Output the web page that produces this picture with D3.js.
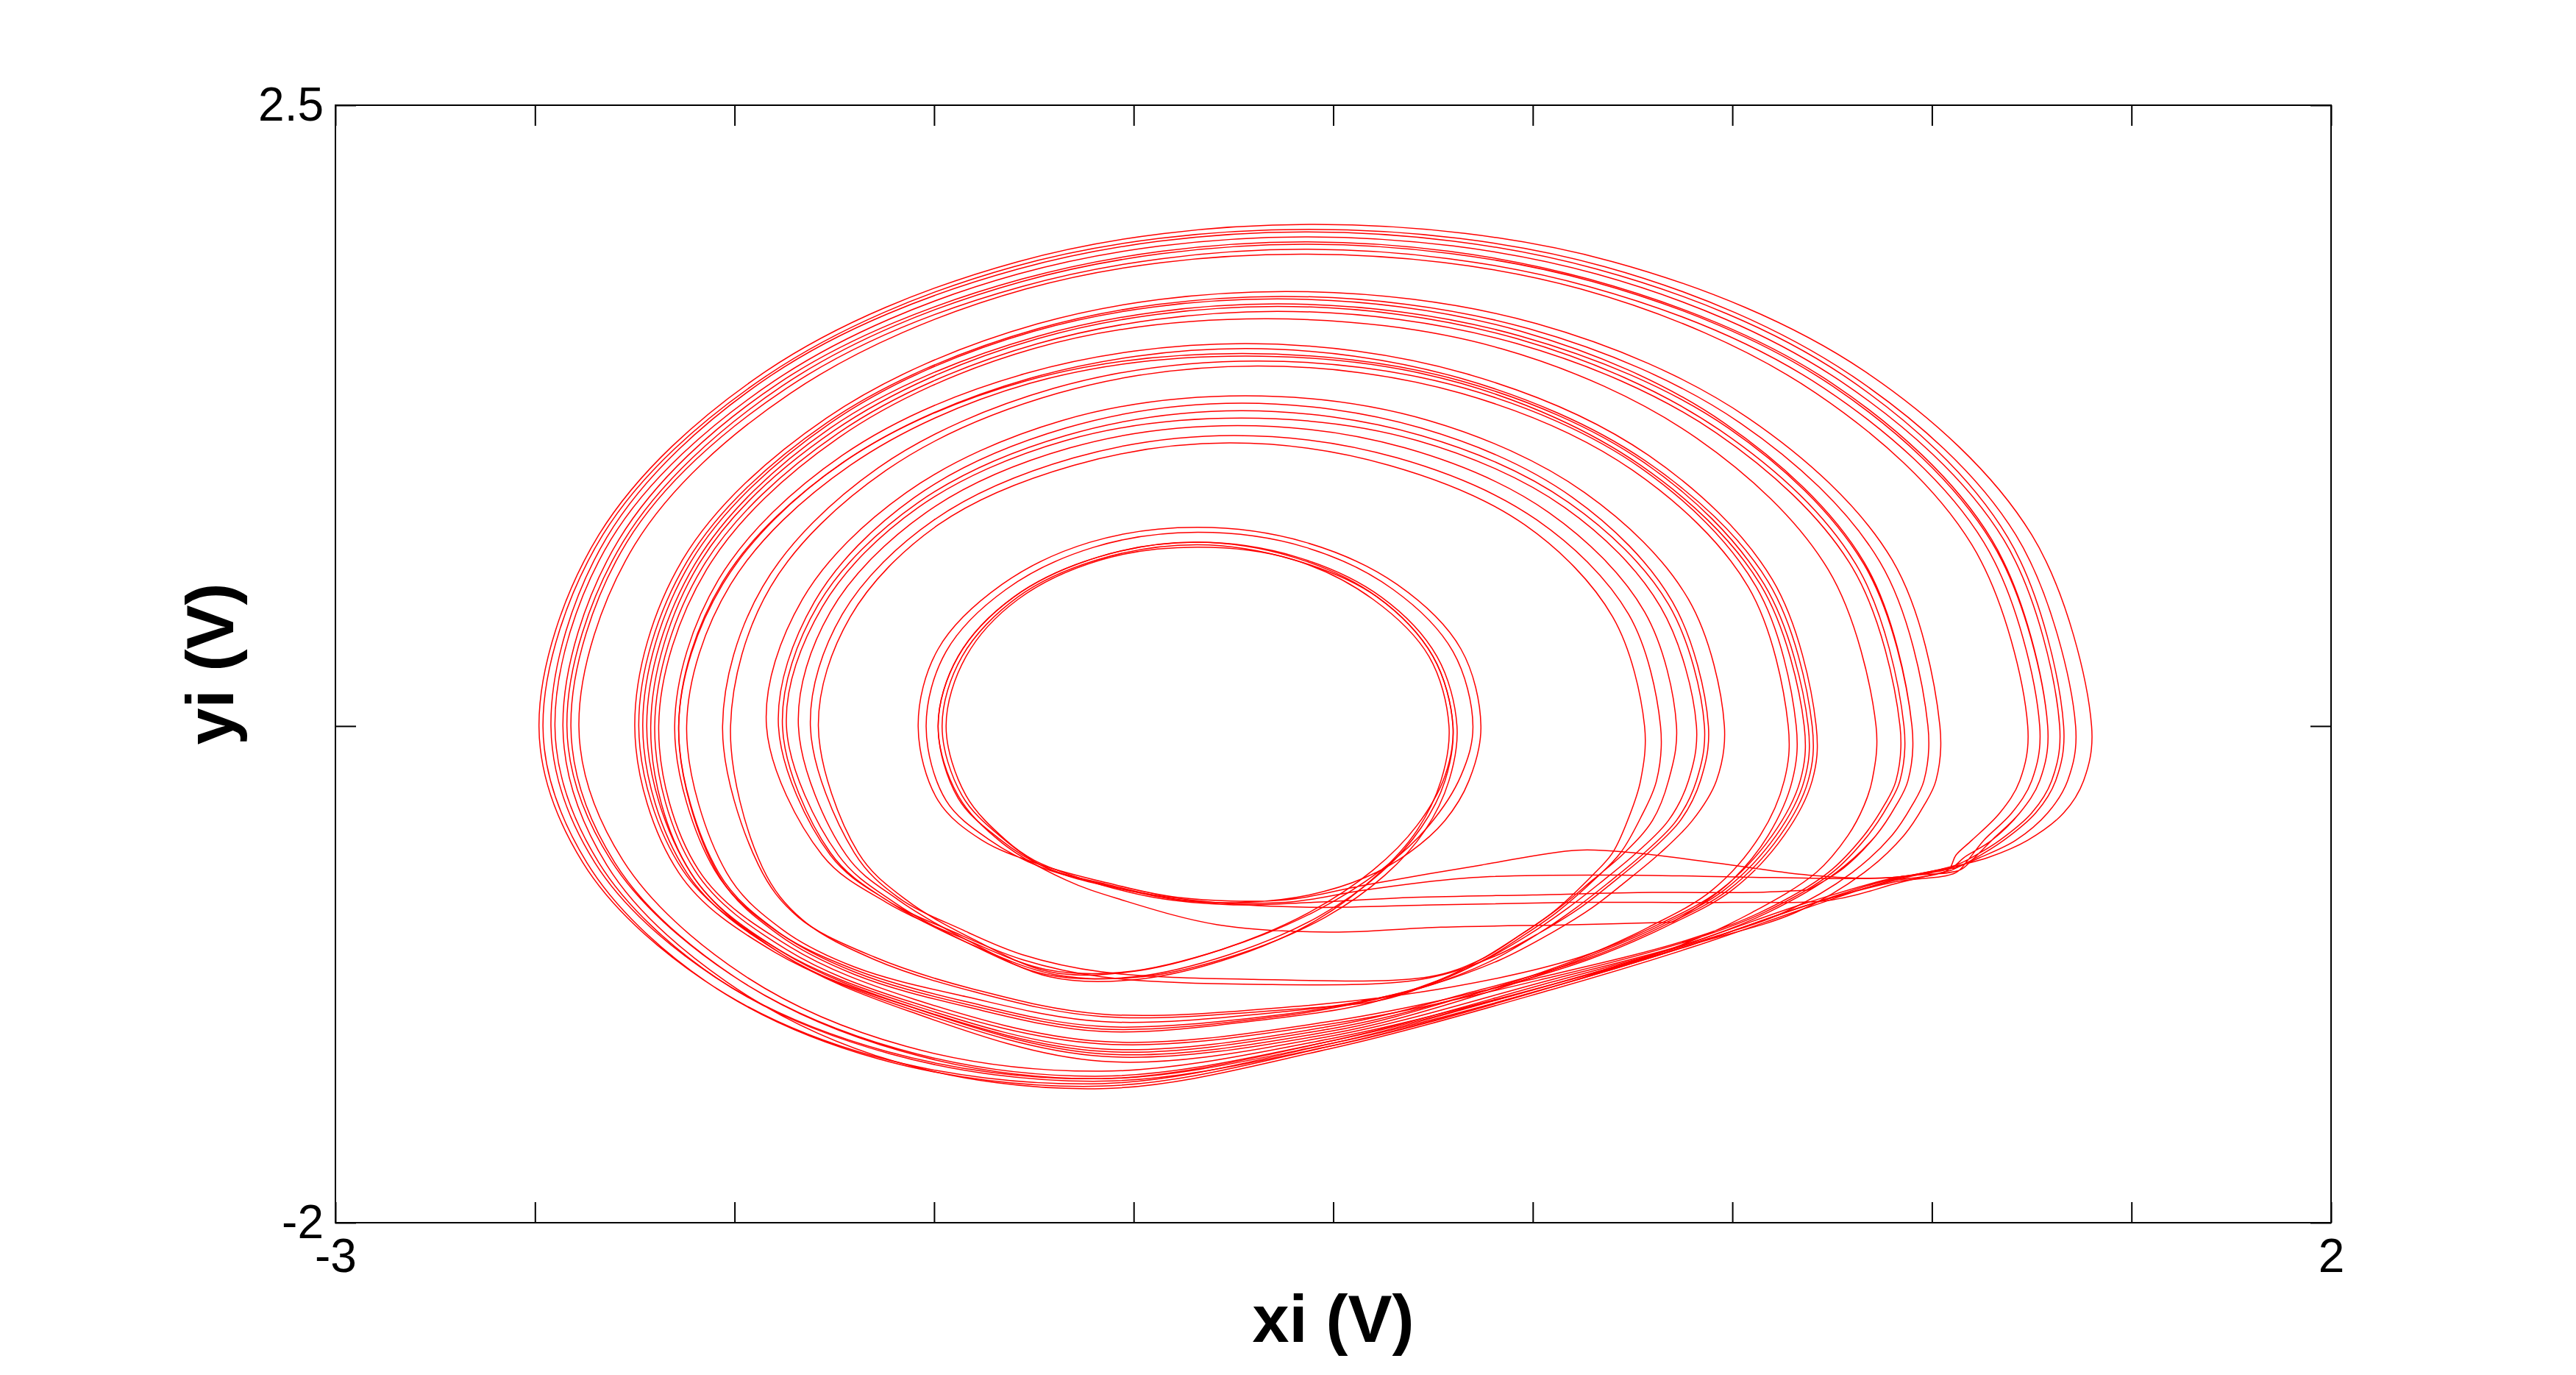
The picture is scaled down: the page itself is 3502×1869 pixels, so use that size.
<!DOCTYPE html>
<html>
<head>
<meta charset="utf-8">
<script src="https://cdn.jsdelivr.net/npm/d3@7"></script>
<style>
  html, body { margin: 0; padding: 0; background: #ffffff; }
  svg { display: block; }
</style>
</head>
<body>
<div id="chart"></div>
<script>
// ---------------- data (volts) ----------------
const xDomain = [-3, 2];
const yDomain = [-2, 2.5];
const xTicks = [-3, -2.5, -2, -1.5, -1, -0.5, 0, 0.5, 1, 1.5, 2];
const xTickLabels = ["-3", "", "", "", "", "", "", "", "", "", "2"];
const yTicks = [-2, 0, 2.5];
const yTickLabels = ["-2", "", "2.5"];
const xLabel = "xi (V)";
const yLabel = "yi (V)";

// trajectory of the attractor (xi, yi), split in episodes; each starts with a re-injection
const episode1 = [
  [1.07,-0.56],[0.90,-0.61],[0.69,-0.60],[0.50,-0.56],[0.25,-0.51],[0.11,-0.50],[-0.13,-0.56],[-0.42,-0.64],[-0.62,-0.70],
  [-0.89,-0.69],[-1.07,-0.63],[-1.23,-0.56],[-1.38,-0.46],[-1.49,-0.30],
  [-1.54,0],[-1.49,0.31],[-1.33,0.57],[-1.11,0.74],[-0.84,0.80],[-0.57,0.74],[-0.34,0.57],[-0.18,0.31],[-0.13,0],
  [-0.16,-0.22],[-0.22,-0.38],[-0.31,-0.51],[-0.42,-0.61],[-0.56,-0.68],[-0.72,-0.71],[-0.89,-0.70],[-1.07,-0.64],[-1.23,-0.57],[-1.36,-0.46],[-1.47,-0.30],
  [-1.52,0],[-1.47,0.30],[-1.32,0.55],[-1.10,0.72],[-0.84,0.78],[-0.57,0.72],[-0.35,0.55],[-0.20,0.30],[-0.15,0],
  [-0.18,-0.20],[-0.26,-0.40],[-0.38,-0.58],[-0.55,-0.75],[-0.78,-0.90],[-1.02,-0.99],[-1.22,-0.98],[-1.42,-0.86],
  [-1.62,-0.71],[-1.78,-0.52],
  [-1.92,0],[-1.83,0.51],[-1.57,0.94],[-1.18,1.23],[-0.72,1.33],[-0.26,1.23],[0.13,0.94],[0.39,0.51],[0.48,0],
  [0.46,-0.22],[0.40,-0.38],[0.32,-0.51],[0.23,-0.63],[0.15,-0.73],[0.05,-0.83],[-0.08,-0.94],[-0.25,-1.04],[-0.40,-1.10],
  [-0.62,-1.16],[-1.08,-1.21],[-1.42,-1.11],[-1.70,-0.98],[-1.90,-0.82],[-2.05,-0.58],
  [-2.15,0],[-2.04,0.59],[-1.73,1.09],[-1.27,1.42],[-0.72,1.54],[-0.17,1.42],[0.29,1.09],[0.60,0.59],[0.71,0],
  [0.70,-0.22],[0.63,-0.44],[0.50,-0.66],[0.33,-0.81],[0.14,-0.94],
  [-0.15,-1.08],[-0.51,-1.22],[-1.08,-1.31],[-1.56,-1.13],[-1.90,-0.91],[-2.14,-0.59],
  [-2.25,0],[-2.13,0.67],[-1.77,1.24],[-1.24,1.62],[-0.62,1.75],[0.01,1.62],[0.54,1.24],[0.90,0.67],[1.02,0],
  [1.01,-0.22],[0.98,-0.32],[0.93,-0.44],[0.83,-0.59],[0.66,-0.75],[0.42,-0.87],
  [0.05,-1.04],[-0.51,-1.28],[-1.08,-1.44],[-1.65,-1.33],[-2.08,-1.02],[-2.38,-0.55],
  [-2.49,0],[-2.34,0.77],[-1.92,1.43],[-1.29,1.87],[-0.55,2.02],[0.20,1.87],[0.83,1.43],[1.25,0.77],[1.40,0],
  [1.38,-0.22],[1.33,-0.35],[1.24,-0.46],[1.14,-0.53],[1.07,-0.56],
  [0.91,-0.62],[0.69,-0.72],[0.40,-0.88],[0.05,-1.05],
  [-0.51,-1.29],[-1.08,-1.45],[-1.64,-1.34],[-2.07,-1.03],[-2.37,-0.55],
  [-2.48,0],[-2.33,0.77],[-1.92,1.41],[-1.30,1.85],[-0.56,2.00],[0.18,1.85],[0.80,1.41],[1.21,0.77],[1.36,0],
  [1.34,-0.22],[1.29,-0.35],[1.21,-0.46],[1.12,-0.53],[1.06,-0.57]
];

const episode2 = [
  [1.06,-0.57],[0.90,-0.61],[0.60,-0.61],[0.20,-0.60],[-0.15,-0.61],[-0.42,-0.66],[-0.62,-0.71],
  [-0.88,-0.70],[-1.06,-0.64],[-1.22,-0.57],[-1.34,-0.45],[-1.44,-0.29],
  [-1.49,0],[-1.44,0.28],[-1.30,0.52],[-1.09,0.68],[-0.84,0.74],[-0.59,0.68],[-0.38,0.52],[-0.24,0.28],[-0.19,0],
  [-0.21,-0.22],[-0.27,-0.42],[-0.37,-0.60],[-0.52,-0.77],[-0.74,-0.92],[-0.98,-1.01],[-1.20,-1.00],[-1.42,-0.87],
  [-1.61,-0.71],[-1.76,-0.52],
  [-1.89,0],[-1.80,0.50],[-1.55,0.92],[-1.17,1.20],[-0.73,1.30],[-0.28,1.20],[0.10,0.92],[0.35,0.50],[0.44,0],
  [0.42,-0.22],[0.37,-0.38],[0.29,-0.51],[0.20,-0.63],[0.12,-0.73],[0.02,-0.83],[-0.10,-0.93],[-0.28,-1.02],
  [-0.70,-1.04],[-1.08,-1.01],[-1.28,-0.94],[-1.45,-0.83],[-1.62,-0.70],[-1.76,-0.51],
  [-1.88,0],[-1.79,0.49],[-1.54,0.90],[-1.17,1.17],[-0.73,1.27],[-0.28,1.17],[0.09,0.90],[0.34,0.49],[0.43,0],
  [0.41,-0.22],[0.36,-0.38],[0.28,-0.51],[0.19,-0.63],[0.11,-0.73],[0.01,-0.84],[-0.11,-0.95],[-0.27,-1.05],[-0.42,-1.11],
  [-0.64,-1.17],[-1.08,-1.22],[-1.42,-1.12],[-1.70,-0.99],[-1.89,-0.83],[-2.04,-0.59],
  [-2.14,0],[-2.03,0.58],[-1.72,1.07],[-1.26,1.40],[-0.72,1.52],[-0.18,1.40],[0.28,1.07],[0.59,0.58],[0.70,0],
  [0.69,-0.22],[0.62,-0.44],[0.49,-0.66],[0.32,-0.81],[0.13,-0.94],
  [-0.15,-1.07],[-0.51,-1.21],[-1.08,-1.30],[-1.56,-1.12],[-1.89,-0.90],[-2.13,-0.58],
  [-2.24,0],[-2.12,0.66],[-1.77,1.22],[-1.24,1.60],[-0.63,1.73],[-0.01,1.60],[0.52,1.22],[0.87,0.66],[0.99,0],
  [0.98,-0.22],[0.95,-0.32],[0.90,-0.44],[0.80,-0.59],[0.63,-0.75],[0.41,-0.87],
  [0.05,-1.03],[-0.51,-1.27],[-1.08,-1.42],[-1.62,-1.31],[-2.05,-1.01],[-2.35,-0.55],
  [-2.46,0],[-2.32,0.76],[-1.91,1.41],[-1.29,1.84],[-0.57,1.99],[0.16,1.84],[0.78,1.41],[1.19,0.76],[1.33,0],
  [1.31,-0.22],[1.26,-0.35],[1.18,-0.46],[1.10,-0.54],[1.05,-0.58]
];

const episode3 = [
  [1.05,-0.58],[0.92,-0.63],[0.75,-0.70],[0.50,-0.71],[0.10,-0.71],[-0.25,-0.72],[-0.55,-0.73],[-0.80,-0.71],
  [-1.05,-0.65],[-1.22,-0.57],[-1.33,-0.45],[-1.43,-0.28],
  [-1.48,0],[-1.43,0.28],[-1.29,0.52],[-1.09,0.67],[-0.84,0.73],[-0.60,0.67],[-0.39,0.52],[-0.25,0.28],[-0.20,0],
  [-0.22,-0.22],[-0.28,-0.41],[-0.38,-0.59],[-0.54,-0.77],[-0.76,-0.92],[-1.00,-1.01],[-1.22,-1.00],[-1.42,-0.87],
  [-1.60,-0.71],[-1.74,-0.52],
  [-1.87,0],[-1.78,0.48],[-1.54,0.88],[-1.17,1.15],[-0.73,1.24],[-0.29,1.15],[0.08,0.88],[0.32,0.48],[0.41,0],
  [0.39,-0.22],[0.34,-0.38],[0.26,-0.51],[0.17,-0.63],[0.09,-0.73],[-0.01,-0.84],[-0.13,-0.95],[-0.28,-1.05],[-0.42,-1.12],
  [-0.66,-1.18],[-1.08,-1.23],[-1.42,-1.13],[-1.70,-1.00],[-1.89,-0.84],[-2.04,-0.60],
  [-2.14,0],[-2.03,0.57],[-1.73,1.06],[-1.27,1.39],[-0.73,1.50],[-0.18,1.39],[0.28,1.06],[0.58,0.57],[0.69,0],
  [0.68,-0.22],[0.61,-0.44],[0.48,-0.66],[0.31,-0.81],[0.12,-0.94],
  [-0.15,-1.09],[-0.51,-1.24],[-1.08,-1.33],[-1.56,-1.14],[-1.88,-0.92],[-2.12,-0.59],
  [-2.23,0],[-2.11,0.66],[-1.76,1.22],[-1.25,1.59],[-0.64,1.72],[-0.03,1.59],[0.48,1.22],[0.83,0.66],[0.95,0],
  [0.94,-0.22],[0.91,-0.32],[0.86,-0.44],[0.76,-0.59],[0.59,-0.75],[0.40,-0.87],
  [0.05,-1.02],[-0.51,-1.25],[-1.08,-1.35],[-1.56,-1.15],[-1.88,-0.92],[-2.11,-0.59],
  [-2.22,0],[-2.10,0.65],[-1.76,1.20],[-1.24,1.57],[-0.64,1.70],[-0.03,1.57],[0.49,1.20],[0.83,0.65],[0.95,0],
  [0.94,-0.22],[0.91,-0.32],[0.86,-0.44],[0.78,-0.57],[0.69,-0.66]
];

const episode4 = [
  [0.69,-0.66],[0.55,-0.67],[0.30,-0.67],[0.00,-0.68],[-0.30,-0.69],[-0.55,-0.71],[-0.75,-0.72],
  [-0.95,-0.69],[-1.12,-0.62],[-1.25,-0.54],[-1.32,-0.46],[-1.42,-0.28],
  [-1.47,0],[-1.42,0.28],[-1.29,0.51],[-1.08,0.67],[-0.84,0.72],[-0.60,0.67],[-0.40,0.51],[-0.26,0.28],[-0.21,0],
  [-0.23,-0.22],[-0.29,-0.42],[-0.39,-0.60],[-0.54,-0.78],[-0.75,-0.93],[-0.99,-1.02],[-1.21,-1.01],[-1.42,-0.86],
  [-1.59,-0.70],[-1.72,-0.52],
  [-1.84,0],[-1.76,0.46],[-1.52,0.86],[-1.16,1.12],[-0.74,1.21],[-0.32,1.12],[0.04,0.86],[0.28,0.46],[0.36,0],
  [0.34,-0.22],[0.30,-0.38],[0.23,-0.51],[0.15,-0.62],[0.06,-0.74],[-0.03,-0.84],[-0.13,-0.94],[-0.26,-1.01],
  [-0.70,-1.02],[-1.08,-0.99],[-1.28,-0.92],[-1.43,-0.82],[-1.59,-0.69],[-1.70,-0.51],
  [-1.81,0],[-1.73,0.45],[-1.50,0.83],[-1.15,1.08],[-0.75,1.17],[-0.34,1.08],[0.01,0.83],[0.24,0.45],[0.32,0],
  [0.31,-0.22],[0.27,-0.37],[0.22,-0.51],[0.16,-0.61],[0.06,-0.75],[-0.03,-0.85],[-0.12,-0.94],[-0.24,-1.03],[-0.40,-1.10],
  [-0.62,-1.15],[-1.08,-1.19],[-1.42,-1.09],[-1.70,-0.97],[-1.88,-0.82],[-2.02,-0.59],
  [-2.12,0],[-2.01,0.57],[-1.71,1.05],[-1.26,1.38],[-0.72,1.49],[-0.18,1.38],[0.27,1.05],[0.57,0.57],[0.68,0],
  [0.67,-0.22],[0.60,-0.44],[0.47,-0.66],[0.30,-0.81],[0.12,-0.93],
  [-0.20,-1.05],[-0.60,-1.13],[-1.08,-1.16],[-1.40,-1.06],[-1.65,-0.93],[-1.84,-0.77],[-1.94,-0.56],
  [-2.03,0],[-1.93,0.56],[-1.64,1.04],[-1.20,1.36],[-0.69,1.47],[-0.17,1.36],[0.27,1.04],[0.56,0.56],[0.66,0],
  [0.65,-0.22],[0.59,-0.44],[0.50,-0.62],[0.42,-0.72],[0.35,-0.79]
];

const episode5 = [
  [0.35,-0.79],[0.10,-0.80],[-0.23,-0.81],[-0.51,-0.83],[-0.79,-0.80],[-1.03,-0.70],[-1.17,-0.62],[-1.33,-0.47],[-1.44,-0.28],
  [-1.49,0],[-1.44,0.28],[-1.30,0.52],[-1.09,0.68],[-0.85,0.74],[-0.60,0.68],[-0.39,0.52],[-0.25,0.28],[-0.20,0],
  [-0.22,-0.20],[-0.29,-0.40],[-0.40,-0.58],[-0.56,-0.75],[-0.78,-0.90],[-1.01,-0.99],[-1.21,-0.99],[-1.40,-0.86],
  [-1.57,-0.70],[-1.69,-0.51],
  [-1.79,0],[-1.71,0.44],[-1.49,0.81],[-1.15,1.05],[-0.76,1.14],[-0.36,1.05],[-0.02,0.81],[0.20,0.44],[0.28,0],
  [0.27,-0.22],[0.24,-0.37],[0.20,-0.51],[0.15,-0.60],[0.05,-0.75],[-0.04,-0.85],[-0.13,-0.94],[-0.23,-1.02],[-0.37,-1.10],
  [-0.60,-1.14],[-1.08,-1.17],[-1.40,-1.07],[-1.65,-0.94],[-1.83,-0.78],[-1.93,-0.57],
  [-2.01,0],[-1.91,0.56],[-1.62,1.03],[-1.19,1.34],[-0.69,1.45],[-0.18,1.34],[0.25,1.03],[0.54,0.56],[0.64,0],
  [0.63,-0.22],[0.57,-0.44],[0.45,-0.66],[0.29,-0.81],[0.11,-0.94],
  [-0.15,-1.08],[-0.51,-1.23],[-1.08,-1.32],[-1.56,-1.13],[-1.88,-0.91],[-2.11,-0.59],
  [-2.21,0],[-2.09,0.65],[-1.75,1.19],[-1.24,1.56],[-0.64,1.69],[-0.04,1.56],[0.47,1.19],[0.81,0.65],[0.93,0],
  [0.92,-0.22],[0.89,-0.32],[0.84,-0.44],[0.75,-0.59],[0.58,-0.75],[0.40,-0.86],
  [0.05,-1.01],[-0.51,-1.20],[-1.08,-1.28],[-1.56,-1.11],[-1.87,-0.90],[-2.10,-0.58],
  [-2.20,0],[-2.08,0.64],[-1.74,1.18],[-1.24,1.54],[-0.64,1.67],[-0.04,1.54],[0.46,1.18],[0.80,0.64],[0.92,0],
  [0.91,-0.22],[0.88,-0.32],[0.83,-0.44],[0.74,-0.59],[0.57,-0.75],[0.39,-0.86],
  [0.05,-1.00],[-0.51,-1.19],[-1.08,-1.27],[-1.55,-1.10],[-1.86,-0.89],[-2.09,-0.58],
  [-2.19,0],[-2.07,0.63],[-1.74,1.16],[-1.25,1.52],[-0.67,1.64],[-0.08,1.52],[0.41,1.16],[0.74,0.63],[0.86,0],
  [0.85,-0.22],[0.83,-0.32],[0.79,-0.44],[0.71,-0.59],[0.55,-0.75],[0.39,-0.87],
  [0.05,-1.05],[-0.51,-1.29],[-1.08,-1.43],[-1.61,-1.32],[-2.04,-1.02],[-2.34,-0.55],
  [-2.45,0],[-2.31,0.75],[-1.90,1.39],[-1.29,1.82],[-0.57,1.97],[0.16,1.82],[0.77,1.39],[1.18,0.75],[1.32,0],
  [1.30,-0.22],[1.25,-0.35],[1.17,-0.46],[1.11,-0.52],[1.06,-0.56],
  [0.90,-0.62],[0.69,-0.73],[0.40,-0.89],[0.05,-1.06],
  [-0.51,-1.30],[-1.08,-1.46],[-1.60,-1.35],[-2.02,-1.03],[-2.32,-0.56],
  [-2.43,0],[-2.29,0.75],[-1.89,1.38],[-1.28,1.80],[-0.57,1.95],[0.14,1.80],[0.75,1.38],[1.15,0.75],[1.29,0],
  [1.27,-0.22],[1.22,-0.35],[1.15,-0.46],[1.10,-0.54],[1.07,-0.58],
  [0.91,-0.61],[0.69,-0.71],[0.40,-0.87],[0.05,-1.04],
  [-0.51,-1.27],[-1.08,-1.41],[-1.59,-1.30],[-2.01,-1.00],[-2.31,-0.54],
  [-2.42,0],[-2.28,0.74],[-1.88,1.37],[-1.28,1.79],[-0.57,1.94],[0.15,1.79],[0.75,1.37],[1.15,0.74],[1.29,0],
  [1.27,-0.22],[1.22,-0.35],[1.15,-0.46],[1.08,-0.53],[1.05,-0.57],
  [0.89,-0.62],[0.69,-0.72],[0.40,-0.88],[0.05,-1.05],
  [-0.51,-1.28],[-1.08,-1.42],[-1.58,-1.31],[-2.00,-1.01],[-2.30,-0.55],
  [-2.41,0],[-2.27,0.74],[-1.87,1.36],[-1.28,1.77],[-0.57,1.92],[0.14,1.77],[0.73,1.36],[1.13,0.74],[1.27,0],
  [1.25,-0.22],[1.20,-0.35],[1.13,-0.46],[1.09,-0.54],[1.06,-0.59],
  [0.90,-0.63],[0.69,-0.72],[0.40,-0.88],[0.05,-1.04],
  [-0.51,-1.26],[-1.08,-1.39],[-1.57,-1.29],[-1.98,-1.00],[-2.28,-0.54],
  [-2.39,0],[-2.25,0.73],[-1.86,1.34],[-1.27,1.76],[-0.58,1.90],[0.12,1.76],[0.71,1.34],[1.10,0.73],[1.24,0],
  [1.22,-0.22],[1.17,-0.35],[1.10,-0.46],[1.06,-0.52],[1.04,-0.58],[0.90,-0.62]
];

const episodes = [episode1, episode2, episode3, episode4, episode5];

// ---------------- drawing ----------------
const W = 3502, H = 1869;
const plot = { left: 456, right: 3169, top: 143, bottom: 1662 };
const FONT = "'Liberation Sans', Arial, Helvetica, sans-serif";

const svg = d3.select("#chart").append("svg")
  .attr("width", W).attr("height", H)
  .attr("viewBox", `0 0 ${W} ${H}`);

svg.append("rect").attr("width", W).attr("height", H).attr("fill", "#ffffff");

const x = d3.scaleLinear().domain(xDomain).range([plot.left, plot.right]);
const y = d3.scaleLinear().domain(yDomain).range([plot.bottom, plot.top]);

svg.append("clipPath").attr("id", "clip")
  .append("rect")
  .attr("x", plot.left).attr("y", plot.top)
  .attr("width", plot.right - plot.left).attr("height", plot.bottom - plot.top);

const line = d3.line()
  .x(d => x(d[0]))
  .y(d => y(d[1]))
  .curve(d3.curveCatmullRom.alpha(0.5));

svg.append("g").attr("clip-path", "url(#clip)")
  .selectAll("path")
  .data(episodes)
  .join("path")
  .attr("d", line)
  .attr("fill", "none")
  .attr("stroke", "#ff0000")
  .attr("stroke-width", 1.5)
  .attr("stroke-linejoin", "round");

// axes (ticks point inward, MATLAB style box)
const TICK = 28;
const xLabelOf = d => xTickLabels[xTicks.indexOf(d)];
const yLabelOf = d => yTickLabels[yTicks.indexOf(d)];

function styleAxis(g) {
  g.select(".domain").remove();
  g.selectAll(".tick line").attr("stroke", "#000").attr("stroke-width", 2);
  g.selectAll(".tick text")
    .attr("fill", "#000")
    .style("font-family", FONT)
    .style("font-size", "64px");
}

svg.append("g")
  .attr("transform", `translate(0,${plot.bottom})`)
  .call(d3.axisBottom(x).tickValues(xTicks).tickSize(-TICK).tickSizeOuter(0).tickPadding(22).tickFormat(xLabelOf))
  .call(styleAxis);

svg.append("g")
  .attr("transform", `translate(0,${plot.top})`)
  .call(d3.axisTop(x).tickValues(xTicks).tickSize(-TICK).tickSizeOuter(0).tickFormat(() => ""))
  .call(styleAxis);

svg.append("g")
  .attr("transform", `translate(${plot.left},0)`)
  .call(d3.axisLeft(y).tickValues(yTicks).tickSize(-TICK).tickSizeOuter(0).tickPadding(16).tickFormat(yLabelOf))
  .call(styleAxis);

svg.append("g")
  .attr("transform", `translate(${plot.right},0)`)
  .call(d3.axisRight(y).tickValues(yTicks).tickSize(-TICK).tickSizeOuter(0).tickFormat(() => ""))
  .call(styleAxis);

// box
svg.append("rect")
  .attr("x", plot.left).attr("y", plot.top)
  .attr("width", plot.right - plot.left).attr("height", plot.bottom - plot.top)
  .attr("fill", "none").attr("stroke", "#000").attr("stroke-width", 2);

// axis titles
svg.append("text")
  .attr("x", (plot.left + plot.right) / 2)
  .attr("y", 1824)
  .attr("text-anchor", "middle")
  .style("font-family", FONT)
  .style("font-size", "90px")
  .style("font-weight", "bold")
  .text(xLabel);

svg.append("text")
  .attr("transform", `translate(317,${(plot.top + plot.bottom) / 2}) rotate(-90)`)
  .attr("text-anchor", "middle")
  .style("font-family", FONT)
  .style("font-size", "90px")
  .style("font-weight", "bold")
  .text(yLabel);
</script>
</body>
</html>
